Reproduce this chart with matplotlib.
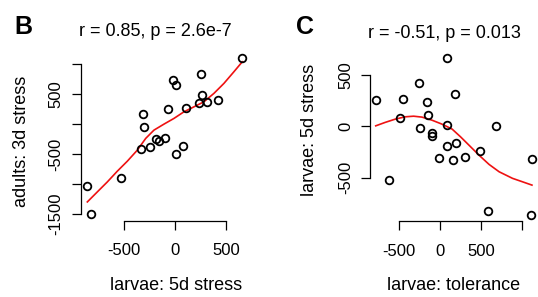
import matplotlib.pyplot as plt
import numpy as np

plt.rcParams['font.family'] = ['Liberation Sans', 'DejaVu Sans']

# Panel B: larvae 5d stress vs adults 3d stress
b_x = [660, 255, -23, 7, 265, 235, 311, 421, 108, -72, -311, -301, -186, -160,
       -95, -242, -333, 81, 7, -529, -865, -820]
b_y = [1105, 828, 738, 655, 478, 355, 372, 395, 267, 250, 172, -50, -255, -283,
       -233, -383, -422, -362, -500, -905, -1038, -1500]
# smoother (red line)
b_fit_x = [-859, -761, -663, -565, -467, -369, -287, -206, -108, -10, 88, 186,
           284, 382, 480, 578, 660]
b_fit_y = [-1295, -1128, -962, -783, -617, -433, -238, -100, 0, 95, 205, 288,
           372, 512, 678, 872, 1038]

# Panel C: larvae tolerance vs larvae 5d stress
c_x = [86, -255, -790, -461, -157, 177, -494, -152, -247, -103, -95, 90, 688,
       83, 201, -9, 164, 305, 494, 1128, -630, 584, 1120]
c_y = [665, 422, 256, 266, 240, 312, 84, 113, -19, -65, -97, 10, 3,
       -192, -166, -309, -331, -299, -238, -321, -526, -825, -861]
c_fit_x = [-790, -676, -552, -429, -325, -222, -99, 25, 148, 251, 354, 478,
           601, 725, 889, 1013, 1128]
c_fit_y = [6, 39, 71, 94, 100, 91, 61, 22, -26, -101, -182, -280,
           -370, -442, -506, -540, -572]

W, H = 538, 297
fig = plt.figure(figsize=(W / 100, H / 100), dpi=100)


def px(x, y):
    return x / W, 1 - y / H


def style(ax, xticks, xlabels, yticks, ylabels, ypad):
    for s in ['top', 'right']:
        ax.spines[s].set_visible(False)
    ax.spines['left'].set_bounds(yticks[0], yticks[-1])
    ax.spines['bottom'].set_bounds(xticks[0], xticks[-1])
    for s in ['left', 'bottom']:
        ax.spines[s].set_linewidth(0.9)
    ax.set_xticks(xticks, xlabels)
    ax.set_yticks(yticks, ylabels)
    ax.tick_params(length=6.5, width=0.9, labelsize=12)
    ax.tick_params(axis='x', pad=10)
    ax.tick_params(axis='y', pad=ypad, labelrotation=90)
    for t in ax.get_yticklabels():
        t.set_va('center')


def margins(ax, xs, ys):
    rx = max(xs) - min(xs)
    ry = max(ys) - min(ys)
    ax.set_xlim(min(xs) - 0.04 * rx, max(xs) + 0.04 * rx)
    ax.set_ylim(min(ys) - 0.04 * ry, max(ys) + 0.04 * ry)


# ---- panel B
axb = fig.add_axes([80.5 / W, 1 - 220.5 / H, 168 / W, 169 / H])
axb.plot(b_fit_x, b_fit_y, color='#ee1111', lw=1.2, zorder=1,
         solid_joinstyle='round')
axb.plot(b_x, b_y, 'o', ms=5.5, mfc='none', mec='black', mew=1.3,
         clip_on=False, zorder=2)
margins(axb, b_x, b_y)
style(axb, [-500, 0, 500], ['-500', '0', '500'],
      [-1500, -1000, -500, 0, 500, 1000],
      ['-1500', '', '-500', '', '500', ''], 6)

# ---- panel C
axc = fig.add_axes([369.5 / W, 1 - 221 / H, 168.7 / W, 169 / H])
axc.plot(c_fit_x, c_fit_y, color='#ee1111', lw=1.2, zorder=1,
         solid_joinstyle='round')
axc.plot(c_x, c_y, 'o', ms=5.5, mfc='none', mec='black', mew=1.3,
         clip_on=False, zorder=2)
margins(axc, c_x, c_y)
style(axc, [-500, 0, 500, 1000], ['-500', '0', '500', ''],
      [-500, 0, 500], ['-500', '0', '500'], 5)

# ---- texts
fig.text(*px(14, 33.5), 'B', fontsize=18, fontweight='heavy', va='baseline')
fig.text(*px(296, 33.5), 'C', fontsize=18, fontweight='heavy', va='baseline')
fig.text(*px(155, 36), 'r = 0.85, p = 2.6e-7', fontsize=13,
         ha='center', va='baseline')
fig.text(*px(444, 37.5), 'r = -0.51, p = 0.013', fontsize=13,
         ha='center', va='baseline')
fig.text(*px(176.5, 290), 'larvae: 5d stress', fontsize=13,
         ha='center', va='baseline')
fig.text(*px(454, 290), 'larvae: tolerance', fontsize=13,
         ha='center', va='baseline')
fig.text(*px(22, 141.5), 'adults: 3d stress', fontsize=13, rotation=90,
         ha='center', va='center')
fig.text(*px(309, 130), 'larvae: 5d stress', fontsize=13, rotation=90,
         ha='center', va='center')

plt.savefig('out.png', dpi=100)
